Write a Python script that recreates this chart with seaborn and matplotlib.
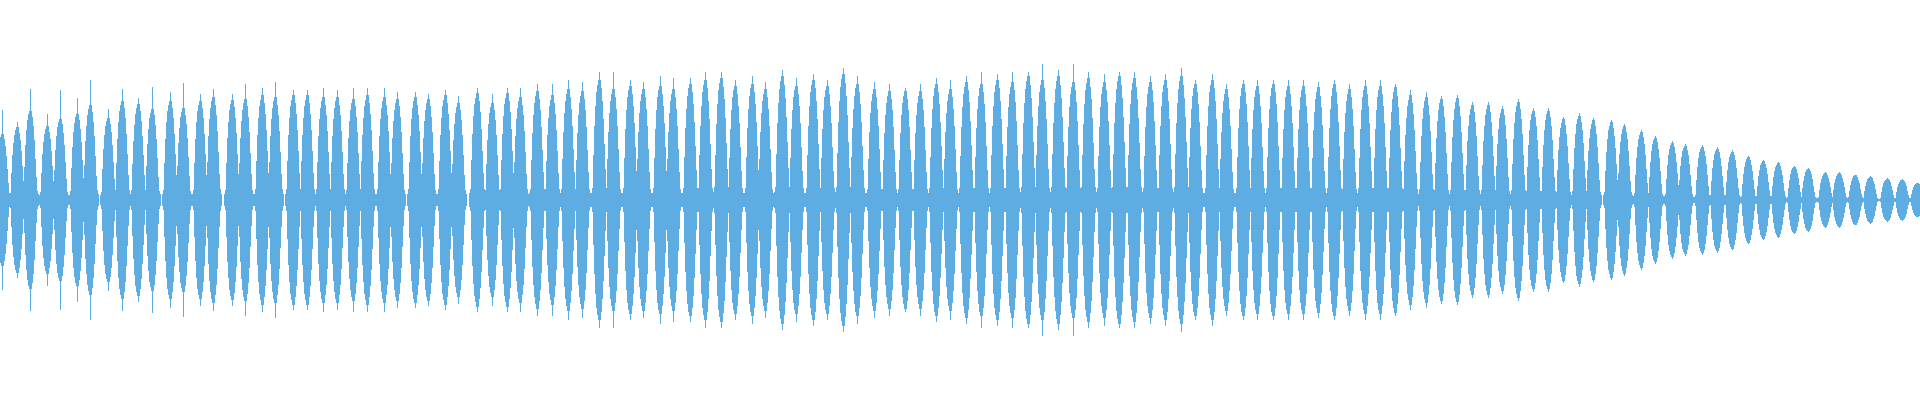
import matplotlib

matplotlib.use("Agg")

import matplotlib.pyplot as plt
import pandas as pd
import seaborn as sns


WAVE_COLOR = "#5DADE2"
N_COLUMNS = 1920

# pulse centres (pixel column)
pulse_centers = [
    2, 17, 30, 47, 60, 77, 90, 108, 122, 138, 152, 170, 183, 200, 213, 232,
    245, 262, 275, 293, 307, 323, 337, 353, 367, 384, 397, 415, 428, 445, 458, 477,
    492, 507, 520, 537, 552, 568, 582, 599, 613, 630, 643, 660, 673, 690, 705,
    721, 735, 752, 765, 782, 796, 813, 827, 843, 857, 874, 889, 905, 920, 936, 950,
    966, 981, 997, 1012, 1028, 1042, 1058, 1073, 1088, 1104, 1119, 1134, 1150, 1165, 1181, 1195,
    1212, 1226, 1243, 1257, 1273, 1288, 1303, 1318, 1334, 1349, 1365, 1380, 1395, 1410, 1426,
    1441, 1457, 1472, 1488, 1502, 1518, 1533, 1548, 1563, 1579, 1593, 1611, 1624, 1641, 1655, 1672,
    1685, 1702, 1717, 1732, 1748, 1763, 1778, 1794, 1808, 1825, 1839, 1855, 1870, 1887, 1902, 1917,
]

# peak of each pulse body (normalised amplitude)
pulse_body = [
    0.34, 0.375, 0.46, 0.38, 0.42, 0.445, 0.49, 0.425, 0.51, 0.495, 0.47, 0.51, 0.475, 0.51, 0.53, 0.515,
    0.52, 0.54, 0.53, 0.54, 0.54, 0.53, 0.53, 0.52, 0.54, 0.53, 0.52, 0.53, 0.52, 0.54, 0.50, 0.55,
    0.50, 0.55, 0.53, 0.56, 0.54, 0.57, 0.56, 0.62, 0.57, 0.59, 0.57, 0.59, 0.57, 0.60, 0.62,
    0.63, 0.59, 0.60, 0.57, 0.64, 0.59, 0.62, 0.59, 0.65, 0.60, 0.57, 0.56, 0.56, 0.56, 0.60, 0.57,
    0.61, 0.60, 0.62, 0.61, 0.64, 0.62, 0.64, 0.61, 0.63, 0.61, 0.64, 0.63, 0.61, 0.62, 0.64, 0.60,
    0.62, 0.57, 0.60, 0.59, 0.60, 0.59, 0.59, 0.58, 0.60, 0.57, 0.59, 0.59, 0.58, 0.54, 0.53,
    0.52, 0.525, 0.49, 0.49, 0.47, 0.505, 0.46, 0.46, 0.415, 0.435, 0.41, 0.40, 0.38, 0.35, 0.32, 0.295,
    0.28, 0.275, 0.265, 0.25, 0.22, 0.20, 0.19, 0.17, 0.16, 0.14, 0.14, 0.127, 0.12, 0.11, 0.105, 0.087,
]

# tallest single spike in each pulse
pulse_peak = [
    0.45, 0.39, 0.555, 0.43, 0.55, 0.51, 0.60, 0.455, 0.555, 0.51, 0.565, 0.54, 0.585, 0.53, 0.555, 0.53,
    0.58, 0.56, 0.59, 0.55, 0.55, 0.56, 0.55, 0.56, 0.56, 0.56, 0.54, 0.54, 0.53, 0.55, 0.52, 0.56,
    0.53, 0.56, 0.56, 0.58, 0.58, 0.60, 0.59, 0.64, 0.64, 0.60, 0.59, 0.62, 0.61, 0.61, 0.64,
    0.64, 0.60, 0.62, 0.59, 0.65, 0.61, 0.63, 0.60, 0.66, 0.62, 0.59, 0.58, 0.56, 0.58, 0.61, 0.60,
    0.62, 0.64, 0.63, 0.64, 0.64, 0.68, 0.65, 0.68, 0.64, 0.63, 0.64, 0.64, 0.62, 0.63, 0.66, 0.60,
    0.63, 0.58, 0.60, 0.60, 0.60, 0.60, 0.60, 0.59, 0.60, 0.58, 0.60, 0.60, 0.58, 0.55, 0.54,
    0.52, 0.525, 0.49, 0.49, 0.47, 0.505, 0.46, 0.46, 0.415, 0.435, 0.41, 0.40, 0.38, 0.35, 0.32, 0.295,
    0.28, 0.275, 0.265, 0.25, 0.22, 0.20, 0.19, 0.17, 0.16, 0.14, 0.14, 0.127, 0.12, 0.11, 0.105, 0.087,
]

# shape of one pulse, column by column, relative to its peak
pulse_profile = [0.06, 0.1, 0.36, 0.6, 0.76, 0.87, 0.93, 0.97, 1.0,
                 0.97, 0.9, 0.8, 0.65, 0.45, 0.25, 0.1, 0.06]


def build_samples() -> pd.DataFrame:
    half = len(pulse_profile) // 2
    rows = []
    for center, body, peak in zip(pulse_centers, pulse_body, pulse_peak):
        for j, rel in enumerate(pulse_profile):
            amp = body * rel
            if j == half:
                amp = max(amp, peak)
            rows.append({"sample": int(round(center + j - half)), "amp": amp})
    df = pd.DataFrame(rows)
    df = df[(df["sample"] >= 0) & (df["sample"] < N_COLUMNS)]
    df = df.groupby("sample", as_index=False)["amp"].max()
    df["neg"] = -df["amp"]
    return df


def main() -> None:
    sns.set_theme(style="white")
    df = build_samples()

    fig = plt.figure(figsize=(19.2, 4), dpi=100)
    ax = fig.add_axes([0, 0, 1, 1])
    for col in ["amp", "neg"]:
        sns.barplot(
            data=df,
            x="sample",
            y=col,
            native_scale=True,
            color=WAVE_COLOR,
            saturation=1,
            width=1.0,
            errorbar=None,
            linewidth=0,
            ax=ax,
        )
    ax.set_xlim(-0.5, N_COLUMNS - 0.5)
    ax.set_ylim(-1, 1)
    ax.axis("off")
    fig.savefig("out.png", dpi=100, facecolor="white")
    plt.close(fig)


if __name__ == "__main__":
    main()
